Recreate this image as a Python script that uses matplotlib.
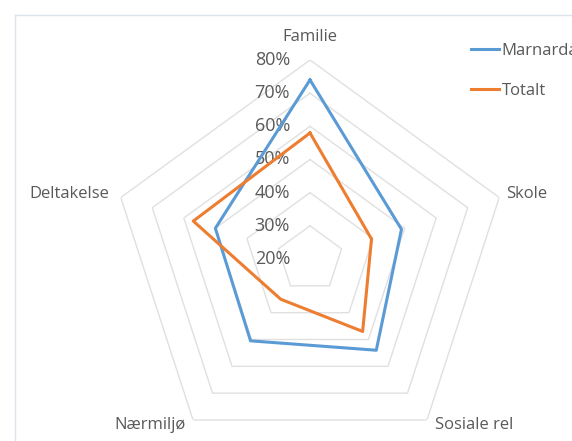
import numpy as np
import matplotlib
matplotlib.use("Agg")
import matplotlib.pyplot as plt
from matplotlib.lines import Line2D
from matplotlib.transforms import offset_copy

plt.rcParams['font.family'] = ['Open Sans', 'DejaVu Sans']

categories = ['Familie', 'Skole', 'Sosiale rel', 'Nærmiljø', 'Deltakelse']
marnardal = [74, 49, 54, 50.5, 50]
totalt = [58, 39.5, 47, 35, 57]
ticks = [20, 30, 40, 50, 60, 70, 80]
tick_labels = ['20%', '30%', '40%', '50%', '60%', '70%', '80%']

blue = '#5B9BD5'
orange = '#ED7D31'
txt = '#595959'
grid = '#E0E0E0'

fig = plt.figure(figsize=(5.72, 4.41), dpi=100)
fig.patch.set_facecolor('white')

# chart area frame (light, only top and left visible)
fig.add_artist(Line2D([15/572, 15/572], [0, 1 - 15/441], color='#DCE3EA', lw=1))
fig.add_artist(Line2D([15/572, 1], [1 - 15/441, 1 - 15/441], color='#DCE3EA', lw=1))

cx, cy, R = 310, 259, 199
ax = fig.add_axes([(cx - R) / 572, (441 - cy - R) / 441, 2 * R / 572, 2 * R / 441],
                  projection='polar')
ax.set_theta_offset(np.pi / 2)
ax.set_theta_direction(-1)
ax.set_ylim(ticks[0], ticks[-1])
ax.set_facecolor('none')
ax.spines['polar'].set_visible(False)
ax.grid(False)
ax.set_xticks([])
ax.set_yticks([])

n = len(categories)
angles = np.linspace(0, 2 * np.pi, n, endpoint=False)
closed = np.concatenate([angles, angles[:1]])

# pentagon gridlines
for t in ticks[1:]:
    ax.plot(closed, [t] * (n + 1), color=grid, lw=1, zorder=1)

ax.plot(closed, marnardal + marnardal[:1], color=blue, lw=2.2, label='Marnardal', zorder=3)
ax.plot(closed, totalt + totalt[:1], color=orange, lw=2.2, label='Totalt', zorder=4)

# radial tick labels, left of the top spoke
tr = offset_copy(ax.transData, fig=fig, x=-20, y=0, units='dots')
for t, lab in zip(ticks, tick_labels):
    ax.text(0, t, lab, transform=tr, ha='right', va='center', fontsize=13, color=txt, zorder=2)

# category labels
label_pos = {
    'Familie': (310, 37, 'center'),
    'Skole': (527, 194, 'center'),
    'Sosiale rel': (474, 425, 'center'),
    'Nærmiljø': (150, 425, 'center'),
    'Deltakelse': (69, 194, 'center'),
}
for c in categories:
    x, y, ha = label_pos[c]
    fig.text(x / 572, 1 - y / 441, c, ha=ha, va='center', fontsize=12, color=txt)

leg = fig.legend(loc='upper left', bbox_to_anchor=(456 / 572, 1 - 28 / 441), frameon=False,
                 handlelength=1.7, handletextpad=0.15, labelspacing=1.45, fontsize=12)
for t in leg.get_texts():
    t.set_color(txt)

fig.savefig('out.png', dpi=100)
